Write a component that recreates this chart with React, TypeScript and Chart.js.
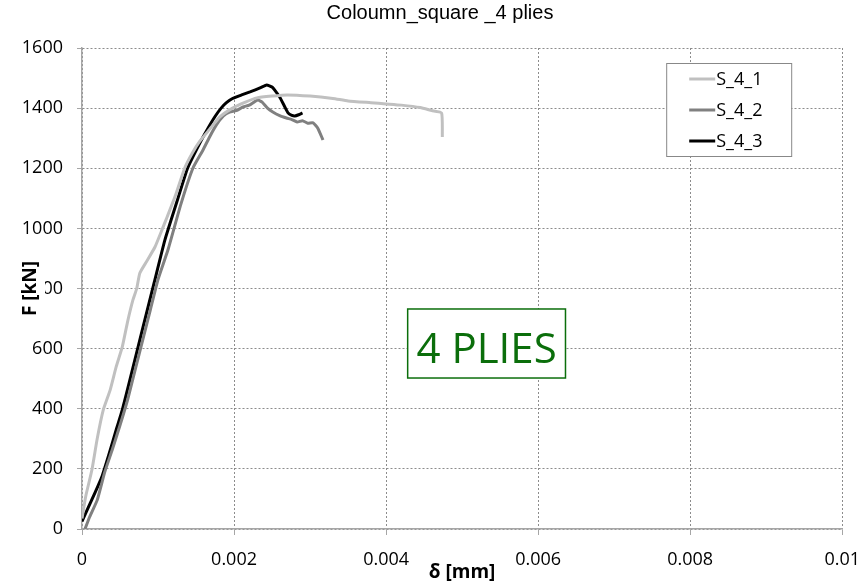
import React, { useEffect, useRef } from 'react';
import { Chart, registerables } from 'chart.js';

Chart.register(...registerables);

const chartTitle = 'Coloumn_square _4 plies';
const xAxisTitle = 'δ [mm]';
const yAxisTitle = 'F [kN]';
const annotationText = '4 PLIES';

const seriesLabels = ['S_4_1', 'S_4_2', 'S_4_3'];
const seriesColors = ['#c0c0c0', '#808080', '#000000'];

const xTickLabels = ['0', '0.002', '0.004', '0.006', '0.008', '0.01'];
const yTickLabels = ['0', '200', '400', '600', '800', '1000', '1200', '1400', '1600'];

const s41X = [0, 0.00005, 0.00013, 0.0002, 0.00028, 0.00037, 0.00045, 0.00053, 0.0006, 0.00067, 0.00072, 0.00076, 0.00085, 0.00096, 0.00106, 0.00112, 0.00123, 0.00135, 0.00145, 0.00155, 0.00168, 0.00181, 0.00198, 0.00215, 0.0023, 0.0025, 0.0027, 0.003, 0.0033, 0.0035, 0.0038, 0.004, 0.0042, 0.00445, 0.0046, 0.00473, 0.00474];
const s41Y = [35, 110, 196, 300, 396, 462, 540, 606, 690, 762, 800, 851, 890, 938, 1000, 1038, 1110, 1200, 1250, 1290, 1330, 1370, 1400, 1420, 1434, 1440, 1444, 1440, 1432, 1424, 1418, 1414, 1410, 1402, 1392, 1384, 1304];

const s42X = [0.00004, 0.0001, 0.0002, 0.0003, 0.0004, 0.0005, 0.0006, 0.0007, 0.0008, 0.0009, 0.001, 0.00113, 0.0013, 0.00146, 0.00159, 0.00168, 0.00177, 0.00186, 0.00194, 0.00203, 0.00212, 0.0022, 0.00231, 0.00237, 0.00244, 0.00251, 0.0026, 0.00269, 0.00276, 0.00283, 0.0029, 0.00297, 0.00304, 0.0031, 0.00317];
const s42Y = [0, 40, 96, 190, 265, 345, 430, 530, 630, 730, 830, 928, 1080, 1201, 1260, 1305, 1345, 1374, 1387, 1392, 1404, 1410, 1427, 1420, 1400, 1387, 1375, 1367, 1362, 1354, 1358, 1350, 1351, 1334, 1294];

const s43X = [0, 0.00008, 0.00017, 0.00026, 0.00035, 0.00045, 0.00053, 0.00063, 0.0008, 0.00095, 0.00109, 0.00125, 0.00139, 0.00155, 0.00165, 0.00175, 0.00183, 0.0019, 0.00198, 0.0021, 0.00221, 0.00235, 0.00243, 0.0025, 0.00255, 0.0026, 0.00266, 0.00271, 0.00276, 0.0028, 0.00285, 0.0029];
const s43Y = [25, 70, 120, 173, 245, 330, 396, 496, 669, 820, 961, 1090, 1201, 1284, 1330, 1372, 1400, 1418, 1432, 1444, 1454, 1468, 1477, 1470, 1455, 1437, 1408, 1384, 1376, 1374, 1378, 1384];

const seriesX = [s41X, s42X, s43X];
const seriesY = [s41Y, s42Y, s43Y];

const FONT = "'Open Sans', 'Liberation Sans', sans-serif";

const overlayPlugin = {
  id: 'overlay',
  afterDraw(chart: any) {
    const { ctx, chartArea: a } = chart;
    const w = a.right - a.left;
    const h = a.bottom - a.top;
    ctx.save();

    // chart title
    ctx.fillStyle = '#000000';
    ctx.font = "20px 'Liberation Sans', Arial, sans-serif";
    ctx.textAlign = 'center';
    ctx.textBaseline = 'middle';
    ctx.fillText(chartTitle, 440, 13);

    // annotation box
    const bx = a.left + 0.4284 * w;
    const by = a.top + 0.5426 * h;
    const bw = 0.2076 * w;
    const bh = 0.1435 * h;
    ctx.fillStyle = '#ffffff';
    ctx.fillRect(bx, by, bw, bh);
    ctx.strokeStyle = '#0b6e0b';
    ctx.lineWidth = 1.5;
    ctx.strokeRect(bx, by, bw, bh);
    ctx.fillStyle = '#0b6e0b';
    ctx.font = `42px ${FONT}`;
    ctx.textAlign = 'center';
    ctx.textBaseline = 'alphabetic';
    ctx.fillText(annotationText, bx + bw / 2, a.top + 0.6549 * h);

    // legend box
    const lx = a.right - 176;
    const ly = a.top + 15;
    const lw = 125;
    const lh = 93;
    ctx.fillStyle = '#ffffff';
    ctx.fillRect(lx, ly, lw, lh);
    ctx.strokeStyle = '#888888';
    ctx.lineWidth = 1;
    ctx.strokeRect(lx + 0.5, ly + 0.5, lw, lh);
    ctx.font = `18px ${FONT}`;
    ctx.textAlign = 'left';
    ctx.textBaseline = 'middle';
    chart.data.datasets.forEach((ds: any, i: number) => {
      const yy = ly + 16 + i * 31;
      ctx.strokeStyle = ds.borderColor;
      ctx.lineWidth = 3;
      ctx.beginPath();
      ctx.moveTo(lx + 23, yy);
      ctx.lineTo(lx + 49, yy);
      ctx.stroke();
      ctx.fillStyle = '#000000';
      ctx.fillText(ds.label, lx + 50, yy + 1);
    });

    // y axis title with white backing
    const ty = (a.top + a.bottom) / 2;
    ctx.fillStyle = '#ffffff';
    ctx.fillRect(18, ty - 32, 27, 64);
    ctx.translate(31, ty);
    ctx.rotate(-Math.PI / 2);
    ctx.fillStyle = '#000000';
    ctx.font = `bold 19px ${FONT}`;
    ctx.textAlign = 'center';
    ctx.textBaseline = 'middle';
    ctx.fillText(yAxisTitle, 0, 0);
    ctx.restore();
  },
};

export default function App() {
  const ref = useRef<HTMLCanvasElement>(null);
  useEffect(() => {
    document.body.style.margin = '0';
    const datasets = seriesLabels.map((label, i) => ({
      label,
      data: seriesX[i].map((x, j) => ({ x, y: seriesY[i][j] })),
      borderColor: seriesColors[i],
      backgroundColor: seriesColors[i],
      borderWidth: 3,
      showLine: true,
      pointRadius: 0,
      tension: 0.15,
      fill: false,
    }));
    const chart = new Chart(ref.current as HTMLCanvasElement, {
      type: 'scatter',
      data: { datasets },
      options: {
        responsive: false,
        animation: false,
        devicePixelRatio: 1,
        layout: { padding: { left: 0, right: 23, top: 48, bottom: 0 } },
        plugins: {
          legend: { display: false },
          tooltip: { enabled: false },
          title: { display: false, text: chartTitle },
        },
        scales: {
          x: {
            type: 'linear',
            min: 0,
            max: 0.01,
            afterFit: (s: any) => {
              s.height = 56;
            },
            ticks: {
              stepSize: 0.002,
              autoSkip: false,
              maxRotation: 0,
              color: '#000000',
              padding: 6,
              font: { family: FONT, size: 18, lineHeight: 2.09 },
              callback: (_v: any, i: number) => xTickLabels[i],
            },
            grid: { color: '#8c8c8c', lineWidth: 1, tickColor: '#a6a6a6', tickLength: 6 },
            border: { color: '#a6a6a6', width: 1.5, dash: [2, 2] },
            title: {
              display: true,
              text: xAxisTitle,
              color: '#000000',
              font: { family: FONT, size: 19, weight: 'bold' },
              padding: { top: 0, bottom: 0.6 },
            },
          },
          y: {
            type: 'linear',
            min: 0,
            max: 1600,
            afterFit: (s: any) => {
              s.width = 82;
            },
            ticks: {
              stepSize: 200,
              autoSkip: false,
              color: '#000000',
              padding: 14,
              font: { family: FONT, size: 18 },
              callback: (_v: any, i: number) => yTickLabels[i],
            },
            grid: { color: '#8c8c8c', lineWidth: 1, tickColor: '#a6a6a6', tickLength: 5 },
            border: { color: '#a6a6a6', width: 1.5, dash: [2, 2] },
          },
        },
      },
      plugins: [overlayPlugin],
    });
    return () => chart.destroy();
  }, []);
  return (
    <div style={{ position: 'absolute', left: 0, top: 0, width: 866, height: 585 }}>
      <canvas ref={ref} width={866} height={585} style={{ display: 'block' }} />
    </div>
  );
}
